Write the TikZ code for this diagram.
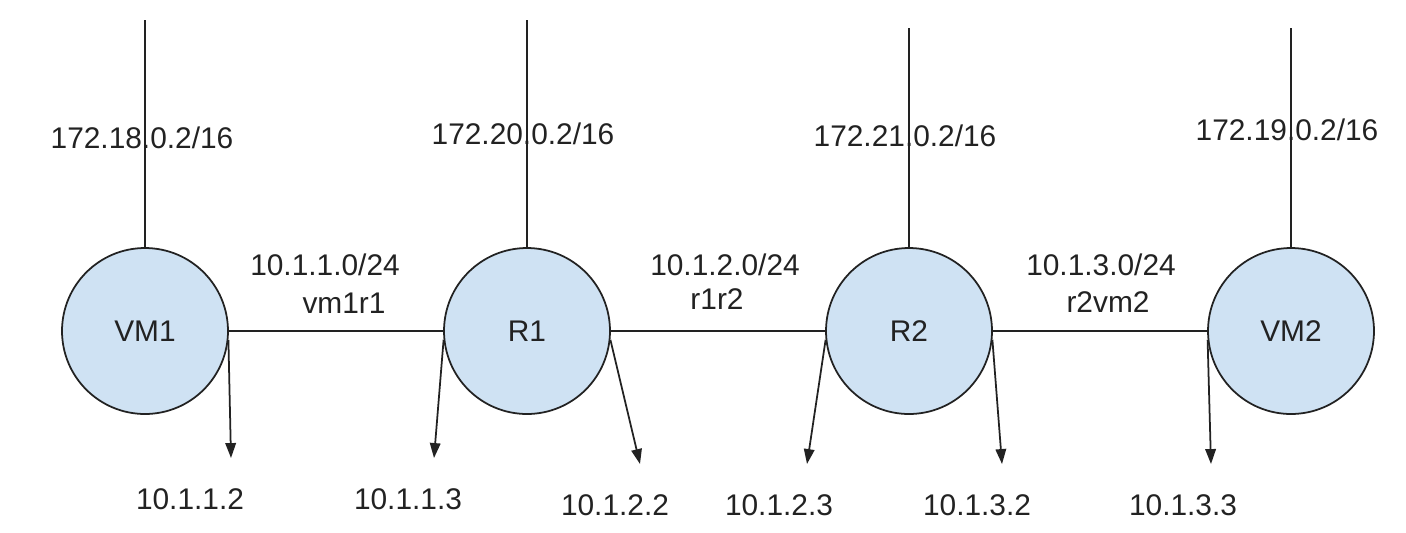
\documentclass[tikz,border=0pt]{standalone}
\usepackage{fontspec}
\setmainfont{Liberation Sans}
\usepackage{tikz}
\usetikzlibrary{arrows.meta}
\definecolor{hostblue}{HTML}{CFE2F3}
\definecolor{wire}{HTML}{222222}

\begin{document}
\begin{tikzpicture}[x=0.02cm,y=-0.02cm,line width=1pt,draw=wire]
\tikzstyle{host}=[circle,draw=wire,fill=hostblue,minimum size=3.32cm,inner sep=0pt,text=wire,font=\fontsize{17}{20}\selectfont]
\tikzstyle{lbl}=[inner sep=0pt,anchor=base,text=wire,font=\fontsize{17}{20}\selectfont]
\tikzstyle{ifarrow}=[-{Triangle[length=8.5pt,width=6pt]}]

\useasboundingbox (0,0) rectangle (1406,532);

\node[host] (vm1) at (145,331) {VM1};
\node[host] (r1) at (527,331) {R1};
\node[host] (r2) at (909,331) {R2};
\node[host] (vm2) at (1291,331) {VM2};

% uplinks
\coordinate (t1) at (145,20);
\coordinate (t2) at (527,20);
\coordinate (t3) at (909,28);
\coordinate (t4) at (1291,28);

% interface arrow ends
\coordinate (a1) at (231,458);
\coordinate (a2) at (434,458);
\coordinate (a3) at (640,464);
\coordinate (a4) at (807,464);
\coordinate (a5) at (1002,464);
\coordinate (a6) at (1211,464);

\foreach \from/\to in {vm1/r1,r1/r2,r2/vm2,vm1/t1,r1/t2,r2/t3,vm2/t4}
\draw (\from) -- (\to);

\draw[ifarrow] (vm1.-6) -- (a1);
\draw[ifarrow] (r1.186) -- (a2);
\draw[ifarrow] (r1.-6) -- (a3);
\draw[ifarrow] (r2.186) -- (a4);
\draw[ifarrow] (r2.-6) -- (a5);
\draw[ifarrow] (vm2.186) -- (a6);

\node[lbl] (u1) at (142,148) {172.18.0.2/16};
\node[lbl] (u2) at (523,144) {172.20.0.2/16};
\node[lbl] (u3) at (905,146) {172.21.0.2/16};
\node[lbl] (u4) at (1287,140) {172.19.0.2/16};

\node[lbl] (n1) at (325,275) {10.1.1.0/24};
\node[lbl] (k1) at (344,313) {vm1r1};
\node[lbl] (n2) at (725,275) {10.1.2.0/24};
\node[lbl] (k2) at (717,309) {r1r2};
\node[lbl] (n3) at (1101,275) {10.1.3.0/24};
\node[lbl] (k3) at (1108,312) {r2vm2};

\node[lbl] (p1) at (190,509) {10.1.1.2};
\node[lbl] (p2) at (408,509) {10.1.1.3};
\node[lbl] (p3) at (615,515) {10.1.2.2};
\node[lbl] (p4) at (779,515) {10.1.2.3};
\node[lbl] (p5) at (977,515) {10.1.3.2};
\node[lbl] (p6) at (1183,515) {10.1.3.3};

\end{tikzpicture}
\end{document}
